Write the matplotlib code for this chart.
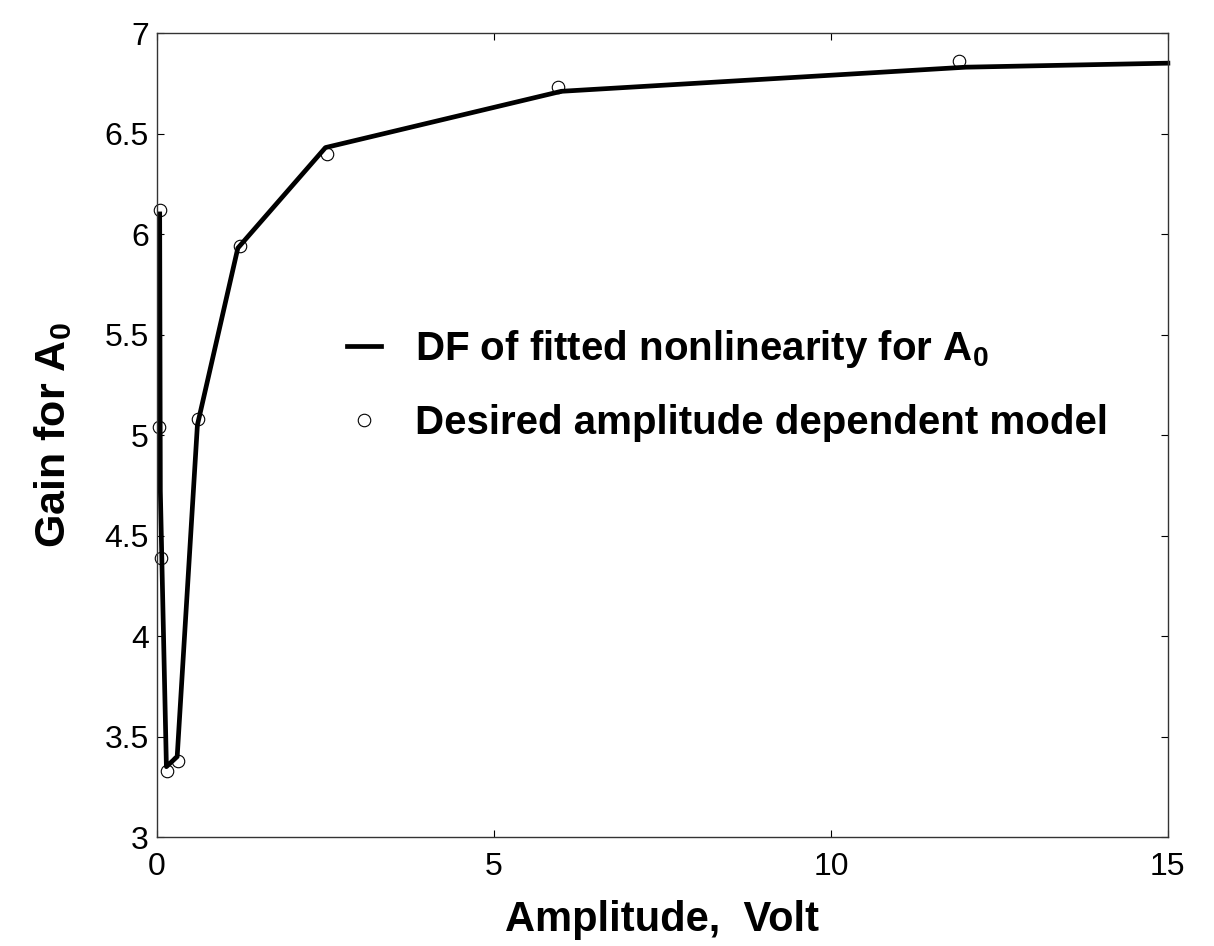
import numpy as np
import matplotlib
matplotlib.use("Agg")
import matplotlib.pyplot as plt

# Fuente tipo Arial
plt.rcParams['font.family'] = ['Liberation Sans', 'DejaVu Sans']
plt.rcParams['mathtext.fontset'] = 'custom'
plt.rcParams['mathtext.rm'] = 'Liberation Sans'
plt.rcParams['mathtext.bf'] = 'Liberation Sans:bold'
plt.rcParams['mathtext.default'] = 'bf'

# Curva DF ajustada
amp_fit = [0.04, 0.05, 0.14, 0.30, 0.60, 1.20, 2.50, 6.00, 12.0, 15.0]
gain_fit = [6.10, 4.72, 3.35, 3.40, 5.05, 5.93, 6.43, 6.71, 6.83, 6.85]

# Modelo deseado (círculos)
amp_des = [0.04, 0.03, 0.06, 0.15, 0.31, 0.61, 1.23, 2.52, 5.95, 11.9]
gain_des = [6.12, 5.04, 4.39, 3.33, 3.38, 5.08, 5.94, 6.40, 6.73, 6.86]

fig = plt.figure(figsize=(12.14, 9.46), dpi=100)
ax = fig.add_axes([0.1293, 0.1152, 0.8327, 0.8499])

ax.plot(amp_fit, gain_fit, color='black', linewidth=3.4, clip_on=False,
        label=r'DF of fitted nonlinearity for A$_0$')
ax.plot(amp_des, gain_des, linestyle='none', marker='o', markersize=9,
        markerfacecolor='none', markeredgecolor='black', markeredgewidth=0.8,
        clip_on=False, label='Desired amplitude dependent model')

ax.set_xlim(0, 15)
ax.set_ylim(3, 7)
ax.set_xticks([0, 5, 10, 15])
ax.set_yticks(np.arange(3, 7.01, 0.5))
ax.set_yticklabels(['3', '3.5', '4', '4.5', '5', '5.5', '6', '6.5', '7'])
ax.tick_params(direction='in', top=True, right=True, length=5, width=0.8,
               labelsize=23)
ax.tick_params(axis='x', pad=11)
ax.tick_params(axis='y', pad=6)
for s in ax.spines.values():
    s.set_linewidth(1.0)
    s.set_color('#333333')

ax.set_xlabel('Amplitude,  Volt', fontsize=30, fontweight='bold', labelpad=13)
ax.set_ylabel(r'Gain for A$_0$', fontsize=31, fontweight='bold', labelpad=22)

leg = ax.legend(loc='upper left', bbox_to_anchor=(0.152, 0.678), frameon=False,
                prop={'size': 29, 'weight': 'bold'}, handlelength=0.85,
                handletextpad=0.85, labelspacing=0.85)

plt.savefig("out.png", dpi=100)
